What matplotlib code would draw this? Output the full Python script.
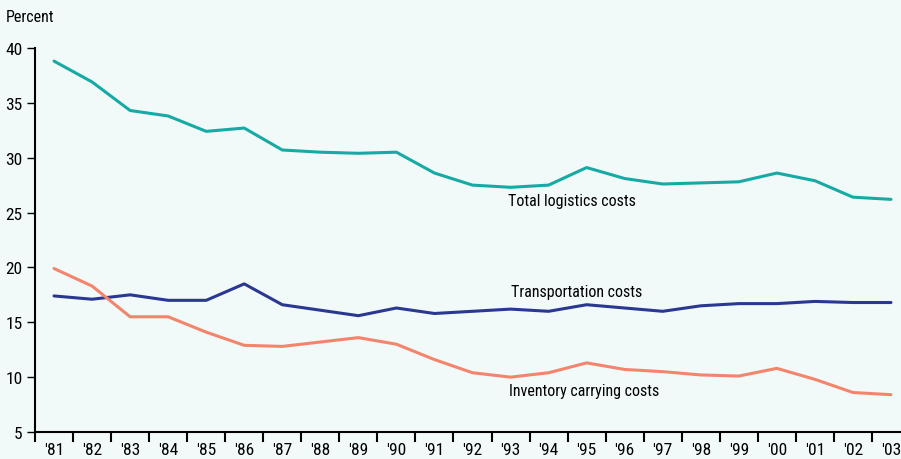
import matplotlib
matplotlib.use("Agg")
import matplotlib.pyplot as plt

# valeurs (en %)
years = ["'81", "'82", "'83", "'84", "'85", "'86", "'87", "'88", "'89", "'90", "'91", "'92",
         "'93", "'94", "'95", "'96", "'97", "'98", "'99", "'00", "'01", "'02", "'03"]
total_logistics = [38.8, 36.9, 34.3, 33.8, 32.4, 32.7, 30.7, 30.5, 30.4, 30.5, 28.6, 27.5,
                   27.3, 27.5, 29.1, 28.1, 27.6, 27.7, 27.8, 28.6, 27.9, 26.4, 26.2]
transportation = [17.4, 17.1, 17.5, 17.0, 17.0, 18.5, 16.6, 16.1, 15.6, 16.3, 15.8, 16.0,
                  16.2, 16.0, 16.6, 16.3, 16.0, 16.5, 16.7, 16.7, 16.9, 16.8, 16.8]
inventory = [19.9, 18.3, 15.5, 15.5, 14.1, 12.9, 12.8, 13.2, 13.6, 13.0, 11.6, 10.4,
             10.0, 10.4, 11.3, 10.7, 10.5, 10.2, 10.1, 10.8, 9.8, 8.6, 8.4]
y_ticks = [5, 10, 15, 20, 25, 30, 35, 40]

BG = "#f1f9f9"
plt.rcParams["font.family"] = ["Liberation Sans Narrow", "Roboto Condensed", "Roboto", "DejaVu Sans"]

fig = plt.figure(figsize=(9.01, 4.6), dpi=100, facecolor=BG)
ax = fig.add_axes([35 / 901, 27 / 460, 875 / 901, 406 / 460])
ax.set_facecolor(BG)

x = list(range(len(years)))
ax.plot(x, total_logistics, color="#17aaa5", lw=2.2, solid_capstyle="round")
ax.plot(x, transportation, color="#2b3891", lw=2.2, solid_capstyle="round")
ax.plot(x, inventory, color="#f4846c", lw=2.2, solid_capstyle="round")

ax.set_xlim(-0.5, len(years) - 0.5)
ax.set_ylim(5, 42)
ax.set_yticks(y_ticks)
ax.set_yticklabels([str(v) for v in y_ticks], fontsize=12.5)

# graduations aux bords des catégories, étiquettes au centre
ax.set_xticks([i - 0.5 for i in range(len(years) + 1)])
ax.set_xticklabels([])
ax.set_xticks(x, minor=True)
ax.set_xticklabels(years, minor=True, fontsize=12.5)
ax.tick_params(axis="x", which="major", length=7, width=1.5, direction="out")
ax.tick_params(axis="x", which="minor", length=0, pad=7)
ax.tick_params(axis="y", length=6, width=1, direction="out", pad=3)

for s in ["top", "right"]:
    ax.spines[s].set_visible(False)
ax.spines["left"].set_bounds(5, 40)
ax.spines["left"].set_linewidth(1.5)
ax.spines["bottom"].set_linewidth(1.5)

ax.text(11.92, 26.1, "Total logistics costs", fontsize=11.5, va="center", ha="left")
ax.text(12.0, 17.8, "Transportation costs", fontsize=11.5, va="center", ha="left")
ax.text(11.95, 8.8, "Inventory carrying costs", fontsize=11.5, va="center", ha="left")

fig.text(6 / 901, 1 - 18 / 460, "Percent", fontsize=11.5, va="center", ha="left")

fig.savefig("out.png", dpi=100, facecolor=BG)
